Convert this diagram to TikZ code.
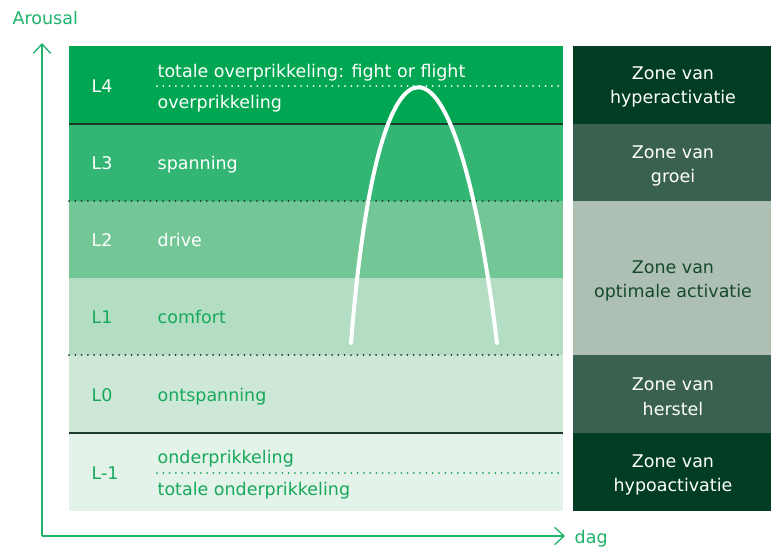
\documentclass[tikz,border=0pt]{standalone}
\usepackage{fontspec}
\setmainfont{DejaVu Sans}
\usetikzlibrary{arrows.meta}
\definecolor{lvlfour}{HTML}{00A651}
\definecolor{lvlthree}{HTML}{33B574}
\definecolor{lvltwo}{HTML}{73C797}
\definecolor{lvlone}{HTML}{B3DEC4}
\definecolor{lvlzero}{HTML}{CDE8D7}
\definecolor{lvlmin}{HTML}{E4F3EA}
\definecolor{zonedark}{HTML}{003D22}
\definecolor{zonemid}{HTML}{3A6150}
\definecolor{zonelight}{HTML}{AEBFB3}
\definecolor{axisgreen}{HTML}{1DB36A}
\definecolor{textgreen}{HTML}{17A85A}
\definecolor{linedark}{HTML}{1C3A2A}
\definecolor{zonetext}{HTML}{154A2E}
\begin{document}
\begin{tikzpicture}[x=0.75pt,y=-0.75pt,
  lbl/.style={anchor=mid west,yshift=-2.2pt,font=\fontsize{13.1}{15}\selectfont},
  zone/.style={align=center,yshift=-1.5pt,font=\fontsize{13.1}{18.4}\selectfont},
  axis/.style={axisgreen,line width=1pt,-{Straight Barb[length=7pt,width=13pt]}},
  sep/.style={linedark,line width=1.1pt},
  dots/.style={line width=1.5pt,line cap=round,dash pattern=on 0pt off 4.7pt}]
\useasboundingbox (0,0) rectangle (771,547);
%---------------------------------------------------
\foreach \ytop/\ybot/\col in {46/124/lvlfour,124/201/lvlthree,201/278/lvltwo,278/355/lvlone,355/433/lvlzero,433/511/lvlmin}
  \fill[\col] (69,\ytop) rectangle (563,\ybot);
\foreach \ytop/\ybot/\col in {46/124/zonedark,124/201/zonemid,201/355/zonelight,355/433/zonemid,433/511/zonedark}
  \fill[\col] (573,\ytop) rectangle (771,\ybot);
%---------------------------------------------------
\draw[sep] (69,124) -- (563,124);
\draw[sep] (69,433) -- (563,433);
\draw[dots,linedark] (69,201) -- (563,201);
\draw[dots,linedark] (69,355) -- (563,355);
\draw[dots,white] (157,86) -- (563,86);
\draw[dots,textgreen] (157,473) -- (563,473);
%---------------------------------------------------
\foreach \y/\lv/\tc [count=\i] in {86/L4/white,163/L3/white,240/L2/white,317/L1/textgreen,395/L0/textgreen,473/L-1/textgreen}
  \node[lbl,text=\tc] (lv\i) at (87,\y) {\lv};
\node[lbl,text=white] (fight) at (153,71) {totale overprikkeling: fight or flight};
\node[lbl,text=white] (over) at (153,102) {overprikkeling};
\node[lbl,text=white] (spanning) at (153,163) {spanning};
\node[lbl,text=white] (drive) at (153,240) {drive};
\node[lbl,text=textgreen] (comfort) at (153,317) {comfort};
\node[lbl,text=textgreen] (ontspanning) at (153,395) {ontspanning};
\node[lbl,text=textgreen] (onder) at (153,457) {onderprikkeling};
\node[lbl,text=textgreen] (totonder) at (153,489) {totale onderprikkeling};
%---------------------------------------------------
\draw[white,line width=3pt,line cap=round] (351,343) .. controls (378,2) and (455,2) .. (497,343);
%---------------------------------------------------
\node[zone,text=white] (hyper) at (673,85) {Zone van\\hyperactivatie};
\node[zone,text=white] (groei) at (673,164) {Zone van\\groei};
\node[zone,text=zonetext] (optimaal) at (673,279) {Zone van\\optimale activatie};
\node[zone,text=white] (herstel) at (673,395) {Zone van\\herstel};
\node[zone,text=white] (hypo) at (673,473) {Zone van\\hypoactivatie};
%---------------------------------------------------
\coordinate (origin) at (42,536);
\coordinate (ytop) at (42,43);
\coordinate (xend) at (565,536);
\draw[axis] (origin) -- (ytop);
\draw[axis] (origin) -- (xend);
\node[lbl,text=axisgreen] (arousal) at (8,18) {Arousal};
\node[lbl,text=axisgreen] (dag) at (570,537) {dag};
\end{tikzpicture}
\end{document}
